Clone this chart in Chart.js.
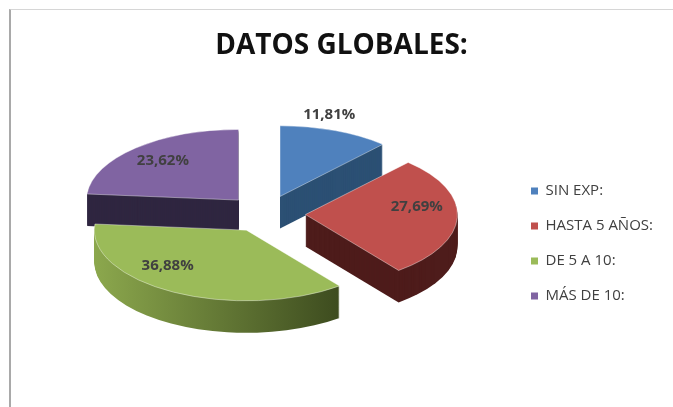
<!DOCTYPE html>
<html>
<head>
<meta charset="utf-8">
<script src="https://cdn.jsdelivr.net/npm/chart.js@4.4.1/dist/chart.umd.min.js"></script>
<style>
  html, body { margin: 0; padding: 0; background: #fff; }
  #wrap { position: relative; width: 673px; height: 407px; overflow: hidden; }
  #wrap canvas { position: absolute; left: 0; top: 0; }
  /* frame of the original spreadsheet chart, cropped at right/bottom */
  #frame { position: absolute; left: 9px; top: 9px; right: -2px; bottom: -2px;
           border-left: 2px solid #a9a9a9; border-top: 1px solid #d6d6d6; pointer-events: none; }
</style>
</head>
<body>
<div id="wrap">
  <canvas id="pieChart" width="673" height="407"></canvas>
  <div id="frame"></div>
</div>
<script>
// ---- data ----
const categories = ['SIN EXP:', 'HASTA 5 AÑOS:', 'DE 5 A 10:', 'MÁS DE 10:'];
const shares = [11.81, 27.69, 36.88, 23.62];

// ---- styles ----
const topColors  = ['#4f81bd', '#c0504d', '#9bbb59', '#8064a2'];
const sideColors = ['#2c5074', '#4e1c1b', ['#8ca84d', '#3a481d'], '#2f2640'];
// label spot per slice: [fraction of radius, angle nudge in degrees]
const labelSpots = [[1.2, -5.6], [0.74, -10.7], [0.72, 17.4], [0.75, 1]];

const TILT = 0.465;    // vertical squash of the pie
const DEPTH = 32;      // thickness in px
const EXPLODE = 40;    // distance each slice is pulled out

const fmtPct = v => v.toFixed(2).replace('.', ',') + '%';

function explodeShift(arc) {
  const mid = (arc.startAngle + arc.endAngle) / 2;
  return [Math.cos(mid) * EXPLODE, Math.sin(mid) * EXPLODE];
}

// fake 3D: squash the pie, stack dark copies under it, then draw the tops
const pie3d = {
  id: 'pie3d',
  beforeDatasetDraw(chart, args) {
    const ctx = chart.ctx;
    const arcs = args.meta.data;
    const cx = arcs[0].x, cy = arcs[0].y, r = arcs[0].outerRadius;

    ctx.save();
    ctx.translate(cx, cy);
    ctx.scale(1, TILT);
    ctx.translate(-cx, -cy);

    const fills = sideColors.map(c => {
      if (!Array.isArray(c)) return c;
      const g = ctx.createLinearGradient(cx - r - EXPLODE / 2, 0, cx + r * 0.55, 0);
      g.addColorStop(0, c[0]);
      g.addColorStop(1, c[1]);
      return g;
    });

    for (let d = DEPTH; d >= 1; d--) {
      arcs.forEach((arc, i) => {
        const [dx, dy] = explodeShift(arc);
        const ox = arc.x + dx, oy = arc.y + dy + d / TILT;
        ctx.beginPath();
        ctx.moveTo(ox, oy);
        ctx.arc(ox, oy, arc.outerRadius, arc.startAngle, arc.endAngle);
        ctx.closePath();
        ctx.fillStyle = fills[i];
        ctx.fill();
      });
    }

    arcs.forEach(arc => {
      const [dx, dy] = explodeShift(arc);
      ctx.save();
      ctx.translate(dx, dy);
      arc.draw(ctx);
      ctx.restore();
    });

    ctx.restore();
    return false;
  },
  afterDatasetsDraw(chart) {
    const ctx = chart.ctx;
    const arcs = chart.getDatasetMeta(0).data;
    ctx.save();
    ctx.font = 'bold 15px "Open Sans"';
    ctx.fillStyle = '#404040';
    ctx.textAlign = 'center';
    ctx.textBaseline = 'middle';
    arcs.forEach((arc, i) => {
      const mid = (arc.startAngle + arc.endAngle) / 2;
      const [f, nudge] = labelSpots[i];
      const a = mid + nudge * Math.PI / 180;
      const [dx, dy] = explodeShift(arc);
      const x = arc.x + dx + Math.cos(a) * f * arc.outerRadius;
      const y = arc.y + (dy + Math.sin(a) * f * arc.outerRadius) * TILT;
      ctx.fillText(fmtPct(shares[i]), x, y);
    });
    ctx.restore();
  }
};

new Chart(document.getElementById('pieChart'), {
  type: 'pie',
  data: {
    labels: categories,
    datasets: [{
      data: shares,
      backgroundColor: topColors,
      borderColor: 'rgba(255,255,255,0.55)',
      borderWidth: 1,
      clip: false
    }]
  },
  options: {
    responsive: false,
    animation: false,
    radius: 152,
    layout: { padding: { left: 20, right: 10, top: 0, bottom: 42 } },
    plugins: {
      title: {
        display: true,
        text: 'DATOS GLOBALES:',
        color: '#111',
        font: { family: 'Open Sans', size: 28, weight: 'bold' },
        padding: { top: 29, bottom: 0 }
      },
      legend: {
        position: 'right',
        fullSize: false,
        title: { display: true, text: '', font: { size: 11 }, padding: 23 },
        labels: {
          boxWidth: 7,
          boxHeight: 7,
          padding: 20,
          color: '#404040',
          font: { family: 'Open Sans', size: 15 },
          generateLabels(chart) {
            return Chart.overrides.pie.plugins.legend.labels.generateLabels(chart)
              .map(item => ({ ...item, lineWidth: 0 }));
          }
        }
      },
      tooltip: { enabled: false }
    }
  },
  plugins: [pie3d]
});
</script>
</body>
</html>
